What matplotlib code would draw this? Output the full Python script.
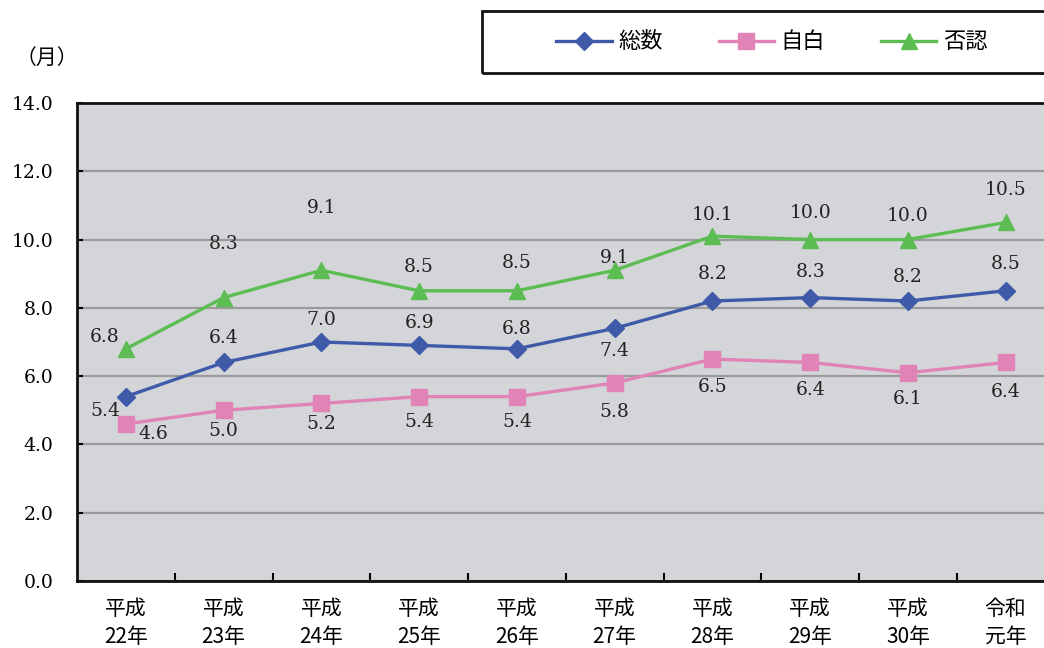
import matplotlib.pyplot as plt
from matplotlib.patches import Rectangle

# 平均審理期間（月）
years = ["平成\n22年", "平成\n23年", "平成\n24年", "平成\n25年", "平成\n26年",
         "平成\n27年", "平成\n28年", "平成\n29年", "平成\n30年", "令和\n元年"]
total = [5.4, 6.4, 7.0, 6.9, 6.8, 7.4, 8.2, 8.3, 8.2, 8.5]
confess = [4.6, 5.0, 5.2, 5.4, 5.4, 5.8, 6.5, 6.4, 6.1, 6.4]
deny = [6.8, 8.3, 9.1, 8.5, 8.5, 9.1, 10.1, 10.0, 10.0, 10.5]

# label offsets in pixels (dx, dy) relative to each point
total_off = [(-21, -14), (0, 24), (0, 22), (0, 22), (0, 20),
             (0, -23), (0, 27), (0, 26), (0, 24), (0, 27)]
confess_off = [(27, -10), (0, -21), (0, -21), (0, -25), (0, -25),
               (0, -29), (0, -28), (0, -28), (0, -26), (0, -30)]
deny_off = [(-21, 12), (0, 54), (0, 62), (0, 24), (0, 28),
            (0, 12), (0, 21), (0, 27), (0, 24), (0, 32)]

num_font = ['DejaVu Serif', 'Noto Sans CJK JP']
jp_font = ['Noto Sans CJK JP', 'DejaVu Sans']

BLUE = '#3f5aa9'
PINK = '#e083b6'
GREEN = '#5cbd52'

fig = plt.figure(figsize=(10.44, 6.48), dpi=100)
ax = fig.add_axes([0.0738, 0.1034, 0.9363, 0.7377])
ax.set_facecolor('#d4d5d8')

x = list(range(len(years)))
series = [
    (total, BLUE, 'D', 9, '総数', total_off),
    (confess, PINK, 's', 11, '自白', confess_off),
    (deny, GREEN, '^', 11, '否認', deny_off),
]
handles = []
for vals, color, marker, ms, name, offs in series:
    h, = ax.plot(x, vals, color=color, lw=2.4, marker=marker, ms=ms,
                 markeredgecolor=color, label=name, zorder=3)
    handles.append(h)
    for xi, v, (dx, dy) in zip(x, vals, offs):
        ax.annotate(f"{v:.1f}", (xi, v), xytext=(dx, dy),
                    textcoords='offset pixels', ha='center', va='center',
                    fontsize=13.5, family=num_font, color='#222222', zorder=4)

ax.set_xlim(-0.5, len(years) - 0.5)
ax.set_ylim(0, 14)
ax.set_yticks([i * 2.0 for i in range(8)])
ax.set_yticklabels([f"{i * 2.0:.1f}" for i in range(8)], family=num_font, fontsize=13.5)
ax.yaxis.grid(True, color='#9a9a9a', lw=1.6)
ax.set_axisbelow(True)

ax.set_xticks(x)
ax.set_xticklabels(years, family=jp_font, fontsize=15, linespacing=1.35)
ax.set_xticks([i + 0.5 for i in x[:-1]], minor=True)
ax.tick_params(axis='x', which='major', length=0, pad=12)
ax.tick_params(axis='x', which='minor', direction='in', length=6, width=1.5)
ax.tick_params(axis='y', direction='in', length=4, width=1.5, pad=17)

for s in ax.spines.values():
    s.set_linewidth(2)
    s.set_color('#111111')

fig.text(47 / 1044, 1 - 58 / 648, '（月）', family=jp_font, fontsize=15,
         ha='center', va='center')

# legend box
fig.patches.append(Rectangle((482 / 1044, 1 - 73 / 648), 600 / 1044, 62 / 648,
                             transform=fig.transFigure, fill=False,
                             edgecolor='#111111', lw=2))
fig.legend(handles=handles, loc='center', bbox_to_anchor=(772 / 1044, 1 - 42 / 648),
           ncol=3, frameon=False, prop={'family': jp_font, 'size': 16},
           handlelength=2.5, columnspacing=2.5, handletextpad=0.3)

plt.savefig('out.png', dpi=100)
